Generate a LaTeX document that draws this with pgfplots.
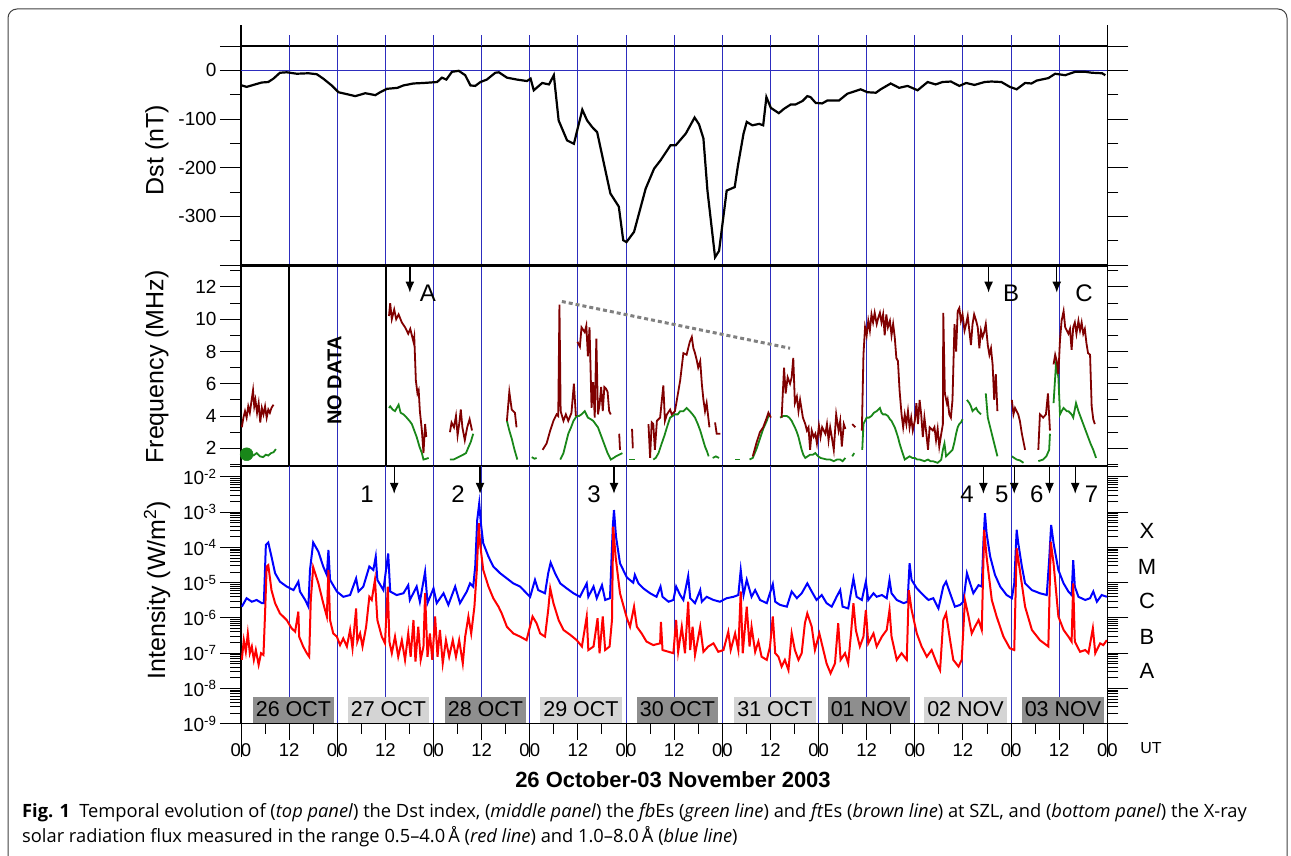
\documentclass[border=0pt]{standalone}
\usepackage{fontspec}
\setmainfont{Liberation Sans}
\newfontfamily\capfont{Open Sans}
\usepackage{pgfplots}
\pgfplotsset{compat=1.18}
\usetikzlibrary{arrows.meta}
\newcommand{\fs}[1]{\fontsize{#1pt}{#1pt}\selectfont}
\definecolor{gridblue}{RGB}{45,45,190}
\definecolor{brownc}{RGB}{128,0,0}
\definecolor{greenc}{RGB}{25,135,25}
\definecolor{boxdark}{RGB}{142,142,142}
\definecolor{boxlight}{RGB}{212,212,212}
\tikzset{arr/.style={-{Latex[length=11pt,width=9pt]}, line width=1.4pt}}
\pgfplotsset{
  panel/.style={scale only axis, width=866.3pt, xmin=0, xmax=216,
    tick align=outside, major tick length=21pt, minor tick length=11pt,
    axis line style={line width=1.2pt},
    tick style={black, line width=1pt},
    xtick={0,12,...,216}, xmajorgrids,
    major x grid style={gridblue, line width=1pt},
    yticklabel style={font=\fs{19}},
    xticklabels={}, xtick style={draw=none},
  },
  brownl/.style={brownc, line width=1.8pt, no marks},
  greenl/.style={greenc, line width=1.8pt, no marks},
}
\begin{document}
\begin{tikzpicture}
\useasboundingbox (0,0) rectangle (1291pt,-856pt);
% frame
\draw[black!75, line width=1pt, rounded corners=9pt] (8pt,-900pt) -- (8pt,-9pt) -- (1287pt,-9pt) -- (1287pt,-900pt);
% ---------------- top panel: Dst ----------------
\begin{axis}[panel, at={(241pt,-265pt)}, anchor=south west, height=219pt,
  ymin=-400, ymax=50, ytick={-400,-300,-200,-100,0,50},
  yticklabels={,-300,-200,-100,0,}, minor ytick={-350,-250,-150,-50}]
\draw[gridblue, line width=1pt] (axis cs:0,0) -- (axis cs:216,0);
\addplot[black, line width=2.2pt, no marks] coordinates {
(0.2,-31)(1.4,-34)(3.5,-29)(5.2,-25)(6.8,-24)(8.1,-17)(9.7,-5)(11.4,-4)(13.9,-7)(16.8,-6)(18.9,-8)(20.5,-17)(22.6,-31)(24.3,-45)(25.9,-48)(28.5,-53)(31,-47)(33.5,-51)(34.7,-45)(36.4,-38)(39,-36)(40.5,-31)(43,-27)(45.5,-26)(48.9,-24)(50.1,-15)(51.2,-19)(52.6,-3)(54.3,-1)(55.9,-10)(57.2,-31)(58.4,-32)(59.7,-24)(61.3,-19)(63.4,-5)(64.3,-4)(66.3,-15)(68.8,-19)(71.3,-22)(72.2,-17)(73,-41)(75.1,-26)(76.8,-29)(78,-10)(79.2,-103)(81.3,-144)(83,-151)(85.1,-81)(86.3,-103)(87.6,-117)(88.8,-127)(90.5,-192)(92.1,-253)(94.2,-280)(95.3,-349)(96.1,-353)(98,-332)(100.9,-243)(103,-202)(104.6,-185)(107.1,-154)(108.4,-154)(110.9,-130)(113.1,-97)(114.2,-111)(115.3,-140)(116.3,-247)(118.2,-384)(119.2,-371)(121.1,-247)(123.1,-240)(123.9,-196)(125.3,-130)(126.1,-106)(127.5,-113)(129.2,-110)(130.2,-113)(131,-55)(132.1,-77)(134.1,-88)(135.4,-79)(137.1,-70)(138.3,-70)(140,-63)(141.2,-53)(142,-55)(143.3,-67)(144.9,-68)(146.2,-62)(149.1,-62)(151.2,-48)(154.5,-39)(156.2,-45)(158.3,-46)(159.5,-39)(162,-27)(164.1,-36)(166.2,-32)(168.7,-41)(171.2,-24)(173.2,-29)(174.9,-24)(177,-23)(179.1,-32)(180.8,-26)(182.9,-30)(185.4,-24)(187.1,-23)(189.6,-24)(191.7,-34)(193.4,-39)(195.5,-26)(197.1,-27)(198.4,-21)(201.3,-16)(203,-7)(205.5,-10)(208,-3)(210.5,-3)(212.2,-5)(214.7,-6)(215.5,-10)};
\end{axis}
% ---------------- middle panel: frequency ----------------
\begin{axis}[panel, at={(241pt,-466pt)}, anchor=south west, height=200pt,
  ymin=0.9, ymax=13.3, ytick={2,4,...,12}, yticklabels={2,4,6,8,10,12},
  minor ytick={1,3,...,13}]
\pgfplotsinvokeforeach{6,18,...,210}{\draw[line width=1pt] (axis cs:#1,0.9) -- ++(0,9pt);}
\draw[line width=1.6pt] (axis cs:12,0.9) -- (axis cs:12,13.3);
\draw[line width=1.6pt] (axis cs:36.1,0.9) -- (axis cs:36.1,13.3);
\node[rotate=90, font=\bfseries\fs{20}] at (axis cs:23.3,6.2) {NO DATA};
\draw[gray, line width=3pt, dash pattern=on 4pt off 3pt] (axis cs:80.0,11.1) -- (axis cs:136.9,8.2);
% green
\addplot[greenl] coordinates {(0.2,1.7)(1.4,1.63)(2.3,1.6)(3.1,1.55)(3.9,1.7)(4.7,1.5)(5.5,1.45)(6.2,1.6)(6.8,1.55)(7.5,1.7)(8.1,1.75)(8.7,1.95)};
\addplot[greenc, only marks, mark=*, mark size=6.5pt] coordinates {(1.4,1.63)};
\addplot[greenl] coordinates {(36.9,4.5)(37.2,4.6)(37.8,4.4)(38.4,4.3)(39.3,4.7)(39.8,4.2)(40.5,4.1)(41.3,3.9)(42.0,3.7)(42.6,3.5)(43.2,3.1)(43.8,2.7)(44.5,2.1)(45.1,1.7)(45.5,1.3)(46.2,1.35)(46.8,1.4)};
\addplot[greenl] coordinates {(52.1,1.3)(53.0,1.3)(53.8,1.4)(54.6,1.5)(55.4,1.6)(56.1,1.7)(56.6,2.0)(57.3,2.4)(57.9,2.9)};
\addplot[greenl] coordinates {(66.3,3.7)(66.9,3.1)(67.5,2.6)(68.2,1.9)(68.9,1.3)};
\addplot[greenl] coordinates {(72.5,1.45)(73.2,1.35)(73.7,1.4)};
\addplot[greenl] coordinates {(79.6,1.3)(80.4,1.7)(81.0,2.3)(81.6,2.9)(82.3,3.3)(82.9,3.7)(83.7,4.0)(84.3,4.0)(84.9,4.1)(85.7,4.3)(86.5,3.9)(87.2,3.8)(87.8,3.7)(88.4,3.5)(89.0,3.3)(89.6,2.9)(90.2,2.5)(90.8,2.1)(91.4,1.7)(92.2,1.3)(92.9,1.4)(93.5,1.5)(94.3,1.6)(95.1,1.7)};
\addplot[greenl] coordinates {(96.8,1.3)(98.2,1.3)};
\addplot[greenl] coordinates {(102.8,1.3)(103.4,1.4)(104.1,1.7)(104.9,2.3)(105.6,2.8)(106.2,3.3)(107.0,3.9)(107.6,4.0)(108.2,4.1)(108.9,4.1)(109.5,4.3)(110.3,4.3)(111.1,4.5)(111.9,4.3)(112.6,4.1)(113.2,3.9)(113.9,3.5)(114.5,3.1)(115.1,2.6)(115.7,2.1)(116.2,1.8)(116.6,1.5)};
\addplot[greenl] coordinates {(117.6,1.4)(118.4,1.5)(119.2,1.4)};
\addplot[greenl] coordinates {(123.2,1.3)(124.4,1.3)};
\addplot[greenl] coordinates {(126.8,1.3)(127.6,1.4)(128.6,2.0)(129.4,2.6)(130.2,3.2)(131.1,3.7)(131.5,4.0)(132.1,4.0)};
\addplot[greenl] coordinates {(134.4,3.9)(135.2,4.0)(136.1,4.0)(136.7,3.9)(137.3,3.7)(138.1,3.3)(138.6,3.0)(139.0,2.7)(139.4,2.3)(139.8,1.9)(140.2,1.6)(140.7,1.4)(141.3,1.5)(141.9,1.6)(142.6,1.6)(143.2,1.7)(143.9,1.5)(144.5,1.4)(145.3,1.35)(146.1,1.3)(146.9,1.3)(147.8,1.2)(148.6,1.3)(149.4,1.3)(150.0,1.2)(150.7,1.4)};
\addplot[greenl] coordinates {(152.4,1.5)(152.9,1.7)};
\addplot[greenl] coordinates {(154.9,1.9)(155.2,3.5)(155.6,3.7)(156.0,3.9)(156.6,3.9)(157.2,4.0)(157.8,4.2)(158.5,4.3)(159.3,4.5)(159.7,4.2)(160.1,4.1)(160.7,4.1)(161.3,4.0)(161.8,3.8)(162.2,3.7)(162.6,3.5)(163.0,3.3)(163.4,3.0)(163.8,2.7)(164.2,2.3)(164.7,1.9)(165.1,1.6)(165.5,1.3)(166.1,1.4)(166.7,1.5)(167.4,1.4)(168.0,1.4)(168.6,1.3)(169.2,1.3)(169.8,1.25)(170.4,1.2)(171.3,1.3)(171.9,1.2)(172.5,1.2)(173.1,1.15)(173.7,1.1)(174.2,1.2)(174.6,1.3)(175.0,1.9)(175.4,2.3)(175.8,1.5)(176.2,1.6)(176.6,1.7)(177.0,1.8)(177.4,1.9)(177.9,2.4)(178.3,2.9)(178.7,3.3)(179.1,3.5)(179.5,3.6)(179.9,3.8)};
\addplot[greenl] coordinates {(181.0,5.0)(181.3,4.9)(181.6,4.8)(182.0,4.6)(182.4,4.3)(182.8,4.4)(183.3,4.5)(183.7,4.3)(184.1,4.2)(184.5,4.1)};
\addplot[greenl] coordinates {(185.7,5.4)(186.0,4.5)(186.2,3.9)(186.6,3.5)(187.0,3.1)(187.4,2.7)(187.8,2.3)(188.2,1.9)(188.6,1.5)};
\addplot[greenl] coordinates {(192.2,1.5)(192.8,1.4)(193.4,1.3)(194.2,1.25)(195.1,1.1)};
\addplot[greenl] coordinates {(198.8,1.2)(199.4,1.25)(200.0,1.3)(200.8,1.5)(201.5,1.9)(201.7,2.9)};
\addplot[greenl] coordinates {(202.6,4.8)(203.2,7.2)(203.8,6.4)(204.2,4.1)(204.6,4.3)(205.1,4.5)(205.5,4.4)(205.9,4.3)(206.3,4.3)(206.7,4.2)(207.1,4.1)(207.5,3.9)(208.2,4.8)(208.8,4.3)(209.4,3.9)(210.0,3.5)(210.6,3.1)(211.2,2.7)(211.8,2.3)(212.5,1.9)(213.2,1.4)};
% brown
\addplot[brownl] coordinates {(0.2,3.3)(0.6,3.9)(1.0,4.3)(1.4,3.9)(1.8,4.6)(2.2,4.2)(2.6,4.9)(3.0,5.6)(3.3,4.6)(3.6,5.0)(4.0,4.2)(4.4,4.8)(4.8,3.6)(5.2,4.5)(5.6,4.1)(6.0,4.6)(6.4,3.9)(6.8,4.4)(7.2,4.2)(7.6,4.5)(8.1,4.7)};
\addplot[brownl] coordinates {(36.9,10.2)(37.2,11.0)(37.6,10.0)(38.2,10.6)(38.7,10.0)(39.3,10.3)(40.1,9.8)(40.9,9.5)(41.7,9.1)(42.2,9.4)(42.6,9.0)(43.0,8.6)(43.2,8.9)(43.6,6.2)(44.0,5.4)(44.3,5.6)(44.6,4.3)(45.1,3.1)(45.5,1.7)(45.9,3.5)(46.2,2.7)};
\addplot[brownl] coordinates {(52.1,3.0)(52.5,3.6)(53.1,3.3)(53.6,4.0)(54.0,2.8)(54.4,3.5)(54.8,4.4)(55.2,3.3)(55.8,2.5)(56.4,3.3)(57.0,3.8)(57.6,3.1)};
\addplot[brownl] coordinates {(66.3,3.7)(66.9,5.5)(67.5,4.4)(68.3,4.2)(68.7,3.3)};
\addplot[brownl] coordinates {(75.2,1.9)(76.2,2.3)(77.1,3.1)(77.9,3.7)(78.7,4.1)(79.1,4.0)(79.4,10.9)(79.7,4.3)(80.4,3.7)(81.0,4.1)(81.6,3.7)(82.4,4.2)(83.0,6.0)(83.5,4.0)};
\addplot[brownl] coordinates {(83.9,8.6)(84.5,8.3)(84.9,9.5)(85.7,9.2)(86.1,9.6)(86.5,7.7)(86.9,9.5)(87.4,4.5)(87.8,6.1)(88.2,3.9)(88.6,8.8)(89.0,4.1)(89.4,4.7)(89.8,5.8)(90.2,4.3)(90.6,5.8)(91.0,5.7)(91.4,5.5)(91.8,4.3)(92.2,4.1)};
\addplot[brownl] coordinates {(94.3,2.9)(94.5,1.9)};
\addplot[brownl] coordinates {(97.5,3.2)(97.7,2.0)};
\addplot[brownl] coordinates {(101.6,3.5)(102.0,1.4)(102.4,3.6)(102.8,3.5)(103.2,1.9)(103.7,3.7)(104.5,3.9)(105.3,5.9)(105.7,3.7)(106.2,4.1)(107.0,4.4)(107.4,4.1)(108.2,4.3)(109.5,6.2)(110.3,7.9)(111.1,7.8)(111.9,8.6)(112.4,8.9)(112.8,8.2)(113.2,7.9)(113.6,7.5)(114.0,7.0)(114.5,7.4)(114.9,6.0)(115.3,5.0)(115.7,4.3)(116.1,4.8)(116.8,3.3)};
\addplot[brownl] coordinates {(118.2,3.6)(118.6,2.9)(119.5,2.9)};
\addplot[brownl] coordinates {(127.6,1.5)(128.6,2.4)(129.4,3.0)(130.2,3.3)(131.1,3.9)(131.5,4.2)(132.1,3.9)};
\addplot[brownl] coordinates {(134.8,3.9)(135.4,7.0)(135.8,5.4)(136.3,6.4)(136.9,6.0)(137.3,6.4)(137.7,7.6)(138.1,4.8)(138.6,5.2)(139.0,4.3)(139.4,5.0)(140.1,3.9)(140.7,3.5)(141.1,3.1)(141.5,3.3)(141.9,1.9)(142.3,3.1)(142.8,2.7)(143.2,2.9)(143.6,2.3)(144.1,3.4)(144.5,2.7)(144.9,3.3)(145.3,3.1)(145.7,2.9)(146.1,3.5)(146.5,2.5)(146.9,3.3)(147.3,2.7)(147.8,1.9)(148.4,4.1)(149.0,3.1)(149.4,3.7)(149.8,2.1)(150.3,3.5)(150.7,3.2)};
\addplot[brownl] coordinates {(152.4,3.5)(153.2,3.3)};
\addplot[brownl] coordinates {(154.8,3.1)(155.2,7.8)(155.6,9.5)(156.0,9.0)(156.4,9.9)(156.8,9.3)(157.2,10.3)(157.6,9.8)(158.0,10.4)(158.5,9.7)(158.9,10.1)(159.3,10.4)(159.7,9.8)(160.1,10.3)(160.5,9.0)(160.9,10.3)(161.3,9.5)(161.8,9.9)(162.2,9.0)(162.6,9.7)(163.0,8.9)(163.4,7.6)(163.8,7.4)(164.2,5.6)(164.7,4.1)(165.1,3.3)(165.5,4.1)(165.9,3.5)(166.3,4.3)(166.7,3.3)(167.1,3.9)(167.5,3.1)(168.0,3.7)(168.4,4.8)(168.8,3.5)(169.2,5.0)(169.6,4.1)(170.0,2.7)(170.4,3.9)(170.8,3.1)(171.3,1.9)(171.7,3.3)(172.5,3.1)(172.9,3.3)(173.3,2.5)(173.7,3.2)(174.1,2.1)(174.6,2.9)(175.0,3.5)(175.1,10.4)(175.5,5.4)(176.0,4.8)(176.2,5.0)(176.6,4.1)(177.0,3.9)(177.4,5.0)(177.9,9.7)(178.3,8.0)(178.7,10.5)(179.1,10.7)(179.5,9.9)(179.9,10.3)(180.4,9.3)(180.8,9.7)(181.2,10.2)(181.6,9.3)(182.0,8.4)(182.4,9.7)(182.8,10.3)(183.3,9.9)(183.7,9.5)(184.1,8.2)(184.5,9.3)(184.9,8.9)(185.3,9.2)(185.7,9.7)(186.2,8.4)(186.6,7.8)(187.0,8.2)(187.4,7.2)(187.8,5.0)(188.2,6.6)(188.6,4.3)};
\addplot[brownl] coordinates {(192.2,5.0)(192.6,4.1)(193.0,4.5)(193.8,4.1)(194.2,3.7)(194.7,2.9)(195.5,1.9)};
\addplot[brownl] coordinates {(198.8,1.9)(199.2,4.1)(200.0,3.9)(200.7,4.1)(201.2,5.4)(201.7,3.1)};
\addplot[brownl] coordinates {(202.6,7.2)(203.0,7.8)(203.4,7.4)(203.8,6.6)(204.2,8.7)(204.6,9.9)(205.1,10.5)(205.5,9.5)(205.9,9.3)(206.3,9.1)(206.7,9.4)(207.1,8.1)(207.5,9.5)(207.9,9.8)(208.3,9.1)(208.8,9.9)(209.2,9.3)(209.6,9.8)(210.0,9.1)(210.4,9.4)(210.8,8.5)(211.2,7.9)(211.7,7.8)(212.1,4.6)(212.5,3.8)(212.9,3.5)};
% arrows A B C
\draw[arr] (axis cs:42.1,13.3) -- (axis cs:42.1,11.65);
\draw[arr] (axis cs:186.4,13.3) -- (axis cs:186.4,11.65);
\draw[arr] (axis cs:203.4,13.3) -- (axis cs:203.4,11.65);
\node[font=\fs{24}] at (axis cs:46.6,11.6) {A};
\node[font=\fs{24}] at (axis cs:192.0,11.6) {B};
\node[font=\fs{24}] at (axis cs:210.2,11.6) {C};
\end{axis}
% ---------------- bottom panel: X-ray ----------------
\begin{axis}[panel, at={(241pt,-723.7pt)}, anchor=south west, height=258.4pt,
  ymin=-9, ymax=-1.67, ytick={-9,-8,...,-2},
  yticklabels={10\textsuperscript{-9},10\textsuperscript{-8},10\textsuperscript{-7},10\textsuperscript{-6},10\textsuperscript{-5},10\textsuperscript{-4},10\textsuperscript{-3},10\textsuperscript{-2}},
  minor ytick={-8.699,-8.523,-8.398,-8.301,-8.222,-8.155,-8.097,-8.046,
   -7.699,-7.523,-7.398,-7.301,-7.222,-7.155,-7.097,-7.046,
   -6.699,-6.523,-6.398,-6.301,-6.222,-6.155,-6.097,-6.046,
   -5.699,-5.523,-5.398,-5.301,-5.222,-5.155,-5.097,-5.046,
   -4.699,-4.523,-4.398,-4.301,-4.222,-4.155,-4.097,-4.046,
   -3.699,-3.523,-3.398,-3.301,-3.222,-3.155,-3.097,-3.046,
   -2.699,-2.523,-2.398,-2.301,-2.222,-2.155,-2.097,-2.046,-1.699}]
\addplot[blue, line width=2pt, no marks] coordinates {
(0.2,-5.68)(1.4,-5.44)(2.7,-5.54)(3.9,-5.49)(5.2,-5.58)(5.7,-5.58)(6.2,-3.93)(6.8,-3.86)(7.6,-4.26)(8.5,-4.73)(9.7,-4.97)(11.4,-5.11)(13.1,-5.21)(14.3,-4.97)(14.7,-5.25)(16.0,-5.49)(16.8,-5.68)(17.2,-4.64)(18.0,-3.86)(19.3,-4.12)(20.5,-4.54)(21.4,-4.78)(21.8,-4.07)(22.2,-4.92)(23.9,-5.25)(25.5,-5.40)(27.2,-5.35)(28.7,-4.88)(29.3,-5.25)(30.5,-5.11)(32.0,-4.54)(33.0,-4.64)(33.6,-4.26)(34.0,-4.92)(35.5,-5.21)(36.7,-4.17)(37.2,-5.25)(38.8,-5.35)(40.5,-5.30)(41.7,-5.07)(42.1,-5.49)(43.8,-5.11)(44.6,-5.54)(45.9,-4.69)(46.5,-5.58)(48.0,-5.16)(48.8,-5.58)(50.5,-5.30)(51.7,-5.63)(53.4,-5.11)(54.6,-5.58)(56.3,-5.25)(57.1,-5.02)(57.9,-5.11)(58.4,-4.54)(58.9,-3.22)(59.4,-2.75)(59.8,-3.31)(60.4,-3.88)(61.7,-4.26)(62.9,-4.54)(64.6,-4.73)(66.3,-4.88)(67.9,-5.02)(69.6,-5.11)(71.2,-5.30)(72.1,-5.40)(73.3,-4.92)(74.1,-5.21)(75.8,-5.30)(76.6,-4.73)(77.2,-4.43)(78.3,-4.73)(79.6,-5.02)(81.2,-5.16)(82.9,-5.30)(84.5,-5.40)(86.2,-5.02)(86.6,-5.40)(87.9,-5.11)(88.7,-5.44)(90.0,-5.07)(90.8,-5.49)(92.0,-5.44)(92.7,-3.41)(93.0,-2.94)(93.5,-3.69)(94.5,-4.45)(96.2,-4.85)(97.8,-5.0)(98.2,-4.78)(99.1,-5.02)(100.3,-5.16)(102.0,-5.30)(103.6,-5.40)(104.6,-5.11)(105.1,-5.40)(106.6,-5.54)(107.8,-5.49)(108.5,-5.11)(109.5,-5.35)(110.3,-5.49)(111.5,-4.81)(112.0,-5.44)(113.2,-5.58)(114.5,-5.21)(114.9,-5.54)(116.1,-5.40)(117.8,-5.49)(119.4,-5.54)(121.1,-5.44)(122.8,-5.40)(124.0,-5.35)(124.6,-4.64)(125.3,-5.35)(126.1,-4.92)(127.3,-5.40)(128.2,-5.21)(129.4,-5.49)(131.1,-5.58)(132.6,-5.04)(133.2,-5.54)(134.4,-5.63)(136.1,-5.68)(137.3,-5.25)(138.6,-5.44)(139.8,-5.30)(141.2,-5.02)(142.3,-5.25)(143.5,-5.49)(144.8,-5.35)(146.0,-5.58)(147.3,-5.68)(148.5,-5.40)(149.4,-5.21)(150.0,-5.68)(151.4,-5.73)(152.7,-4.88)(153.5,-5.40)(154.8,-5.49)(155.8,-4.97)(156.4,-5.49)(157.7,-5.30)(158.5,-5.40)(159.8,-5.35)(161.0,-5.44)(161.7,-4.92)(162.2,-5.30)(163.5,-5.49)(165.2,-5.58)(166.2,-5.54)(166.7,-4.45)(167.2,-4.92)(168.5,-5.16)(170.1,-5.35)(171.4,-5.49)(172.6,-5.44)(173.9,-5.73)(175.1,-5.11)(175.8,-4.97)(176.8,-5.30)(178.0,-5.68)(179.3,-5.63)(180.1,-5.54)(181.0,-4.73)(181.8,-5.02)(182.6,-5.30)(183.9,-5.07)(184.7,-5.11)(185.1,-3.88)(185.5,-3.03)(185.9,-3.60)(186.8,-4.26)(188.0,-4.78)(189.3,-5.11)(190.9,-5.35)(192.2,-5.44)(192.8,-5.02)(193.4,-3.50)(193.8,-3.88)(194.7,-4.54)(195.5,-5.02)(197.2,-5.21)(199.2,-5.30)(200.9,-5.35)(201.5,-4.36)(202.0,-3.36)(202.6,-3.88)(203.8,-4.64)(205.1,-5.02)(206.3,-5.25)(207.1,-5.35)(207.5,-4.36)(207.9,-5.11)(208.8,-5.40)(210.5,-5.49)(211.7,-5.44)(212.5,-5.25)(213.4,-5.54)(214.6,-5.35)(215.9,-5.40)};
\addplot[red, line width=2pt, no marks] coordinates {
(0.2,-7.19)(0.7,-6.63)(1.2,-6.96)(1.7,-6.44)(2.2,-7.00)(2.7,-6.81)(3.2,-7.19)(3.7,-6.91)(4.4,-7.33)(5.0,-7.00)(5.6,-7.05)(6.0,-5.87)(6.4,-4.54)(6.8,-4.50)(7.6,-5.21)(8.5,-5.58)(9.7,-5.87)(11.4,-6.06)(12.6,-6.29)(13.5,-6.39)(14.3,-5.82)(14.5,-6.53)(15.5,-6.81)(16.4,-7.00)(17.0,-7.10)(17.4,-5.49)(18.0,-4.56)(19.3,-5.02)(20.5,-5.58)(21.4,-5.96)(21.8,-4.64)(22.2,-6.06)(23.0,-6.44)(23.9,-6.53)(24.7,-6.77)(25.5,-6.58)(26.4,-6.81)(27.2,-6.34)(27.8,-6.86)(28.7,-5.73)(29.0,-6.67)(29.7,-6.44)(30.3,-6.81)(31.2,-6.25)(32.0,-5.40)(32.6,-5.49)(33.4,-4.92)(34.0,-6.06)(35.1,-6.53)(35.9,-6.72)(36.6,-5.11)(37.0,-6.67)(37.6,-7.00)(38.4,-6.53)(39.2,-7.10)(40.1,-6.63)(40.9,-7.19)(41.7,-6.44)(42.3,-7.10)(43.0,-6.06)(43.5,-7.24)(44.2,-6.25)(44.8,-7.19)(45.5,-6.81)(45.9,-5.30)(46.5,-7.10)(47.1,-6.44)(47.7,-7.19)(48.4,-5.96)(49.0,-7.10)(49.6,-6.34)(50.3,-7.29)(51.1,-6.63)(51.9,-7.10)(52.8,-6.63)(53.6,-7.10)(54.4,-6.63)(55.3,-7.29)(55.9,-6.53)(56.7,-5.96)(57.4,-6.44)(58.2,-5.68)(58.8,-4.64)(59.3,-3.31)(59.6,-3.88)(60.4,-4.64)(61.7,-5.11)(62.9,-5.44)(64.2,-5.68)(65.0,-5.87)(66.3,-6.25)(67.9,-6.44)(69.6,-6.53)(71.2,-6.63)(72.7,-5.96)(73.7,-6.15)(74.6,-6.44)(75.8,-6.53)(76.6,-5.77)(77.1,-5.16)(77.9,-5.58)(79.2,-6.06)(80.4,-6.34)(82.1,-6.48)(83.7,-6.63)(85.0,-6.81)(86.2,-5.96)(86.6,-6.91)(87.9,-6.81)(88.9,-6.01)(89.4,-7.00)(90.2,-5.96)(90.8,-6.91)(91.9,-6.81)(92.5,-6.06)(92.8,-3.41)(93.4,-4.26)(94.5,-5.3)(96.2,-6.0)(97.0,-6.25)(98.0,-5.68)(98.7,-6.25)(99.9,-6.44)(101.1,-6.67)(102.8,-6.77)(104.5,-6.72)(104.7,-6.11)(105.1,-6.91)(106.6,-6.96)(107.8,-7.00)(108.5,-6.06)(109.0,-6.96)(109.9,-6.25)(110.7,-7.00)(111.5,-5.54)(112.0,-6.91)(112.6,-6.25)(113.2,-7.05)(114.5,-6.25)(115.3,-6.96)(116.5,-6.81)(117.8,-6.72)(119.0,-6.96)(120.3,-6.91)(121.5,-6.39)(122.1,-6.91)(123.2,-6.44)(124.0,-6.91)(124.6,-5.25)(125.1,-7.00)(126.1,-5.68)(126.8,-6.81)(127.3,-6.25)(128.2,-6.96)(129.0,-6.67)(129.8,-7.10)(131.1,-7.19)(131.9,-6.81)(132.6,-5.96)(133.2,-7.00)(134.0,-7.10)(134.8,-7.38)(135.6,-7.19)(136.5,-7.48)(137.3,-6.44)(138.1,-6.91)(139.0,-7.19)(139.8,-7.00)(140.6,-6.15)(141.2,-5.87)(142.3,-6.25)(143.1,-6.91)(144.2,-6.44)(145.2,-6.91)(146.0,-7.29)(147.0,-7.57)(148.1,-7.29)(148.9,-6.15)(149.5,-7.19)(150.6,-7.00)(151.4,-7.29)(152.1,-6.44)(152.7,-5.58)(153.3,-6.34)(154.3,-6.81)(155.2,-6.53)(155.8,-5.77)(156.4,-6.72)(157.7,-6.44)(158.5,-6.81)(159.8,-6.53)(161.0,-6.34)(161.7,-5.77)(162.2,-6.53)(163.5,-7.19)(164.7,-7.00)(166.0,-7.19)(166.5,-5.21)(167.2,-5.77)(168.5,-6.44)(169.7,-6.81)(171.0,-7.10)(172.2,-6.91)(173.5,-7.29)(174.3,-7.48)(175.1,-6.06)(175.8,-5.87)(176.8,-6.63)(177.6,-7.19)(178.9,-7.38)(179.7,-7.19)(180.5,-5.49)(181.4,-5.96)(182.2,-6.44)(183.0,-6.25)(183.9,-6.06)(184.7,-6.34)(185.3,-3.50)(185.9,-4.26)(187.2,-5.49)(188.4,-5.96)(190.1,-6.53)(191.7,-6.86)(192.8,-6.91)(193.4,-4.02)(194.3,-4.73)(195.5,-5.68)(197.2,-6.34)(199.2,-6.63)(201.3,-6.81)(201.9,-3.84)(202.6,-4.45)(203.8,-5.96)(205.1,-6.34)(206.3,-6.53)(207.1,-6.67)(207.5,-5.02)(207.9,-6.67)(209.2,-6.96)(210.5,-6.91)(211.3,-7.00)(212.4,-6.29)(213.0,-7.00)(214.2,-6.72)(215.0,-6.77)(215.9,-6.63)};
% arrows 1-7
\draw[arr] (axis cs:38.2,-1.67) -- (axis cs:38.2,-2.48);
\draw[arr] (axis cs:59.6,-1.67) -- (axis cs:59.6,-2.48);
\draw[arr] (axis cs:93.0,-1.67) -- (axis cs:93.0,-2.48);
\draw[arr] (axis cs:185.1,-1.67) -- (axis cs:185.1,-2.48);
\draw[arr] (axis cs:192.8,-1.67) -- (axis cs:192.8,-2.48);
\draw[arr] (axis cs:201.6,-1.67) -- (axis cs:201.6,-2.48);
\draw[arr] (axis cs:208.0,-1.67) -- (axis cs:208.0,-2.48);
\node[font=\fs{24}] at (axis cs:31.4,-2.5) {1};
\node[font=\fs{24}] at (axis cs:54.1,-2.5) {2};
\node[font=\fs{24}] at (axis cs:88.0,-2.5) {3};
\node[font=\fs{24}] at (axis cs:181.0,-2.5) {4};
\node[font=\fs{24}] at (axis cs:189.7,-2.5) {5};
\node[font=\fs{24}] at (axis cs:198.4,-2.5) {6};
\node[font=\fs{24}] at (axis cs:212.1,-2.5) {7};
\end{axis}
% grid extension above top panel
\foreach \i in {1,...,17} \draw[gridblue, line width=1pt] ({(241+\i*48.128)*1pt},-46pt) -- ++(0,11pt);
\draw[line width=1.2pt] (241pt,-46pt) -- (241pt,-25pt);
\draw[line width=1.2pt] (1107.3pt,-46pt) -- (1107.3pt,-25pt);
% bottom time axis ticks and labels
\foreach \i in {0,...,8} {
  \draw[line width=1pt] ({(241+\i*96.257)*1pt},-723.7pt) -- ++(0,-33pt);
  \draw[line width=1pt] ({(241+\i*96.257+48.128)*1pt},-723.7pt) -- ++(0,-16pt);
  \draw[line width=1pt] ({(241+\i*96.257+24.064)*1pt},-723.7pt) -- ++(0,-10pt);
  \draw[line width=1pt] ({(241+\i*96.257+72.193)*1pt},-723.7pt) -- ++(0,-10pt);
  \node[font=\fs{18.5}, inner sep=0pt] at ({(241+\i*96.257)*1pt},-750pt) {00};
  \node[font=\fs{18.5}, inner sep=0pt] at ({(241+\i*96.257+48.128)*1pt},-750pt) {12};
}
\draw[line width=1pt] (1107.3pt,-723.7pt) -- ++(0,-33pt);
\node[font=\fs{18.5}, inner sep=0pt] at (1107.3pt,-750pt) {00};
% date boxes
\foreach \cx/\w/\c/\t in {293.5/81/boxdark/26 OCT, 388.5/81/boxlight/27 OCT, 485.5/81/boxdark/28 OCT, 581/82/boxlight/29 OCT, 677.5/81/boxdark/30 OCT, 775/82/boxlight/31 OCT, 869/82/boxdark/01 NOV, 965.5/83/boxlight/02 NOV, 1063/82/boxdark/03 NOV}
  \node[fill=\c, minimum width=\w pt, minimum height=26pt, inner sep=0pt, font=\fs{21.5}] at (\cx pt,-709.5pt) {\t};
% labels
\node[rotate=90, font=\fs{25}] at (157pt,-150pt) {Dst (nT)};
\node[rotate=90, font=\fs{25}] at (157pt,-367pt) {Frequency (MHz)};
\node[rotate=90, font=\fs{25}] at (157pt,-590pt) {Intensity (W/m\textsuperscript{2})};
\foreach \y/\t in {531/X, 567/M, 601/C, 637/B, 671/A}
  \node[font=\fs{22}] at (1147pt,-\y pt) {\t};
\node[font=\fs{16}] at (1151pt,-748pt) {UT};
\node[font=\bfseries\fs{22}] at (673pt,-780pt) {26 October-03 November 2003};
\node[anchor=base west, font=\capfont\fs{18.3}, inner sep=0pt] at (22pt,-817pt) {\textbf{Fig. 1}\enspace Temporal evolution of (\textit{top panel}) the Dst index, (\textit{middle panel}) the \textit{fb}Es (\textit{green line}) and \textit{ft}Es (\textit{brown line}) at SZL, and (\textit{bottom panel}) the X-ray};
\node[anchor=base west, font=\capfont\fs{18.3}, inner sep=0pt] at (22pt,-842pt) {solar radiation flux measured in the range 0.5–4.0\,Å (\textit{red line}) and 1.0–8.0\,Å (\textit{blue line})};
\end{tikzpicture}
\end{document}
